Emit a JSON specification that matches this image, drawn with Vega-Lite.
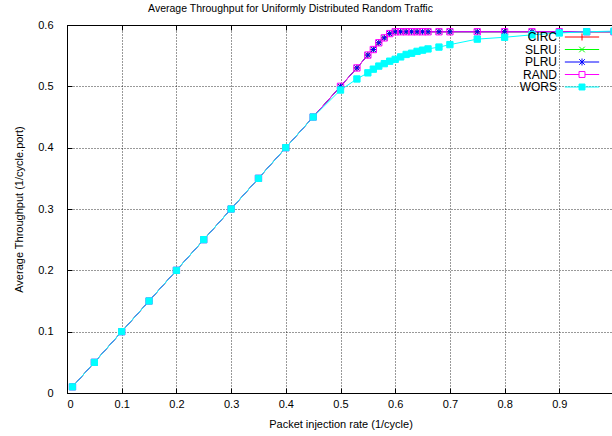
{
  "$schema": "https://vega.github.io/schema/vega-lite/v6.json",
  "width": 547,
  "height": 368,
  "autosize": {"type": "none"},
  "padding": {"left": 67, "top": 25, "right": 0, "bottom": 43},
  "background": "white",
  "config": {
    "font": "Liberation Sans",
    "view": {"stroke": "#000", "strokeWidth": 1},
    "axis": {
      "labelFont": "Liberation Sans", "labelFontSize": 11, "labelColor": "#000",
      "titleFont": "Liberation Sans", "titleFontSize": 11, "titleFontWeight": "normal", "titleColor": "#000",
      "domainColor": "#000", "tickColor": "#000", "tickSize": -5,
      "gridColor": "#000", "gridDash": [1, 2], "gridOpacity": 0.8
    }
  },
  "title": {
    "text": "Average Throughput for Uniformly Distributed Random Traffic",
    "fontSize": 10.5, "fontWeight": "normal", "color": "#000", "font": "Liberation Sans",
    "dx": -50, "offset": 5
  },
  "data": {
    "values": [
      {"rate": 0.01, "CIRC": 0.01, "SLRU": 0.01, "PLRU": 0.01, "RAND": 0.01, "WORS": 0.01},
      {"rate": 0.05, "CIRC": 0.05, "SLRU": 0.05, "PLRU": 0.05, "RAND": 0.05, "WORS": 0.05},
      {"rate": 0.1, "CIRC": 0.1, "SLRU": 0.1, "PLRU": 0.1, "RAND": 0.1, "WORS": 0.1},
      {"rate": 0.15, "CIRC": 0.15, "SLRU": 0.15, "PLRU": 0.15, "RAND": 0.15, "WORS": 0.15},
      {"rate": 0.2, "CIRC": 0.2, "SLRU": 0.2, "PLRU": 0.2, "RAND": 0.2, "WORS": 0.2},
      {"rate": 0.25, "CIRC": 0.25, "SLRU": 0.25, "PLRU": 0.25, "RAND": 0.25, "WORS": 0.25},
      {"rate": 0.3, "CIRC": 0.3, "SLRU": 0.3, "PLRU": 0.3, "RAND": 0.3, "WORS": 0.3},
      {"rate": 0.35, "CIRC": 0.35, "SLRU": 0.35, "PLRU": 0.35, "RAND": 0.35, "WORS": 0.35},
      {"rate": 0.4, "CIRC": 0.4, "SLRU": 0.4, "PLRU": 0.4, "RAND": 0.4, "WORS": 0.4},
      {"rate": 0.45, "CIRC": 0.45, "SLRU": 0.45, "PLRU": 0.45, "RAND": 0.45, "WORS": 0.45},
      {"rate": 0.5, "CIRC": 0.5, "SLRU": 0.5, "PLRU": 0.5, "RAND": 0.5, "WORS": 0.494},
      {"rate": 0.53, "CIRC": 0.53, "SLRU": 0.53, "PLRU": 0.53, "RAND": 0.53, "WORS": 0.512},
      {"rate": 0.55, "CIRC": 0.551, "SLRU": 0.551, "PLRU": 0.551, "RAND": 0.551, "WORS": 0.522},
      {"rate": 0.56, "CIRC": 0.56, "SLRU": 0.56, "PLRU": 0.56, "RAND": 0.56, "WORS": 0.528},
      {"rate": 0.57, "CIRC": 0.571, "SLRU": 0.571, "PLRU": 0.571, "RAND": 0.571, "WORS": 0.533},
      {"rate": 0.58, "CIRC": 0.579, "SLRU": 0.579, "PLRU": 0.579, "RAND": 0.579, "WORS": 0.537},
      {"rate": 0.59, "CIRC": 0.586, "SLRU": 0.586, "PLRU": 0.586, "RAND": 0.586, "WORS": 0.541},
      {"rate": 0.6, "CIRC": 0.589, "SLRU": 0.589, "PLRU": 0.589, "RAND": 0.589, "WORS": 0.544},
      {"rate": 0.61, "CIRC": 0.589, "SLRU": 0.589, "PLRU": 0.589, "RAND": 0.589, "WORS": 0.548},
      {"rate": 0.62, "CIRC": 0.589, "SLRU": 0.589, "PLRU": 0.589, "RAND": 0.589, "WORS": 0.552},
      {"rate": 0.63, "CIRC": 0.589, "SLRU": 0.589, "PLRU": 0.589, "RAND": 0.589, "WORS": 0.554},
      {"rate": 0.64, "CIRC": 0.589, "SLRU": 0.589, "PLRU": 0.589, "RAND": 0.589, "WORS": 0.557},
      {"rate": 0.65, "CIRC": 0.589, "SLRU": 0.589, "PLRU": 0.589, "RAND": 0.589, "WORS": 0.559},
      {"rate": 0.66, "CIRC": 0.589, "SLRU": 0.589, "PLRU": 0.589, "RAND": 0.589, "WORS": 0.561},
      {"rate": 0.68, "CIRC": 0.589, "SLRU": 0.589, "PLRU": 0.589, "RAND": 0.589, "WORS": 0.564},
      {"rate": 0.7, "CIRC": 0.589, "SLRU": 0.589, "PLRU": 0.589, "RAND": 0.589, "WORS": 0.568},
      {"rate": 0.75, "CIRC": 0.589, "SLRU": 0.589, "PLRU": 0.589, "RAND": 0.589, "WORS": 0.577},
      {"rate": 0.8, "CIRC": 0.589, "SLRU": 0.589, "PLRU": 0.589, "RAND": 0.589, "WORS": 0.58},
      {"rate": 0.85, "CIRC": 0.589, "SLRU": 0.589, "PLRU": 0.589, "RAND": 0.589, "WORS": 0.584},
      {"rate": 0.9, "CIRC": 0.589, "SLRU": 0.589, "PLRU": 0.589, "RAND": 0.589, "WORS": 0.587},
      {"rate": 0.95, "CIRC": 0.589, "SLRU": 0.589, "PLRU": 0.589, "RAND": 0.589, "WORS": 0.589},
      {"rate": 1.0, "CIRC": 0.589, "SLRU": 0.589, "PLRU": 0.589, "RAND": 0.589, "WORS": 0.59}
    ]
  },
  "transform": [
    {"fold": ["CIRC", "SLRU", "PLRU", "RAND", "WORS"], "as": ["series", "thr"]}
  ],
  "resolve": {"axis": {"x": "independent"}},
  "layer": [
    {
      "mark": {"type": "line", "strokeWidth": 1, "clip": true},
      "encoding": {
        "x": {"field": "rate", "type": "quantitative", "scale": {"domain": [0, 1], "nice": false, "zero": false},
              "axis": {"orient": "bottom", "values": [0, 0.1, 0.2, 0.3, 0.4, 0.5, 0.6, 0.7, 0.8, 0.9], "format": "~g", "title": "Packet injection rate (1/cycle)", "labelPadding": 10, "titlePadding": 9}},
        "y": {"field": "thr", "type": "quantitative", "scale": {"domain": [0, 0.6], "nice": false},
              "axis": {"values": [0, 0.1, 0.2, 0.3, 0.4, 0.5, 0.6], "format": "~g", "title": "Average Throughput (1/cycle.port)", "labelPadding": 19, "titlePadding": 13}},
        "stroke": {
          "field": "series", "type": "nominal", "sort": null,
          "scale": {"domain": ["CIRC", "SLRU", "PLRU", "RAND", "WORS"], "range": ["#ff0000", "#00ff00", "#0000ff", "#ff00ff", "#00ffff"]},
          "legend": {
            "orient": "none", "legendX": 509, "legendY": 6, "title": null,
            "symbolSize": 49, "symbolStrokeWidth": 1, "symbolOffset": 0,
            "labelAlign": "right", "labelOffset": -31, "labelFontSize": 12, "labelFont": "Liberation Sans", "labelColor": "#000",
            "rowPadding": 0.5,
            "encode": {
              "symbols": {
                "update": {
                  "shape": {"signal": "datum.value==='CIRC' ? 'M-4.9,0L4.9,0M0,-1L0,1' : datum.value==='SLRU' ? 'M-4.9,0L4.9,0M-0.8,-0.8L0.8,0.8M-0.8,0.8L0.8,-0.8' : datum.value==='PLRU' ? 'M-4.9,0L4.9,0M0,-1L0,1M-0.8,-0.8L0.8,0.8M-0.8,0.8L0.8,-0.8' : datum.value==='RAND' ? 'M-4.9,0L-0.85,0M0.85,0L4.9,0M-0.85,-0.85L0.85,-0.85L0.85,0.85L-0.85,0.85Z' : 'M-4.9,0L4.9,0M-0.85,-0.85L0.85,-0.85L0.85,0.85L-0.85,0.85Z'"},
                  "fill": {"signal": "datum.value==='WORS' ? '#00ffff' : datum.value==='RAND' ? '#ffffff' : 'transparent'"},
                  "strokeWidth": {"value": 1}
                }
              }
            }
          }
        }
      }
    },
    {
      "transform": [{"filter": {"field": "series", "equal": "CIRC"}}],
      "mark": {"type": "point", "shape": "M-1,0L1,0M0,-1L0,1", "size": 40, "filled": false, "stroke": "#ff0000", "strokeWidth": 1, "opacity": 1, "clip": true},
      "encoding": {
        "x": {"field": "rate", "type": "quantitative",
              "axis": {"orient": "top", "values": [0.1, 0.2, 0.3, 0.4, 0.5, 0.6, 0.7, 0.8, 0.9], "labels": false, "grid": false, "domain": false, "title": null}},
        "y": {"field": "thr", "type": "quantitative"}
      }
    },
    {
      "transform": [{"filter": {"field": "series", "equal": "SLRU"}}],
      "mark": {"type": "point", "shape": "M-0.8,-0.8L0.8,0.8M-0.8,0.8L0.8,-0.8", "size": 40, "filled": false, "stroke": "#00ff00", "strokeWidth": 1, "opacity": 1, "clip": true},
      "encoding": {
        "x": {"field": "rate", "type": "quantitative", "axis": null},
        "y": {"field": "thr", "type": "quantitative"}
      }
    },
    {
      "transform": [{"filter": {"field": "series", "equal": "PLRU"}}],
      "mark": {"type": "point", "shape": "M-1,0L1,0M0,-1L0,1M-0.8,-0.8L0.8,0.8M-0.8,0.8L0.8,-0.8", "size": 40, "filled": false, "stroke": "#0000ff", "strokeWidth": 1, "opacity": 1, "clip": true},
      "encoding": {
        "x": {"field": "rate", "type": "quantitative", "axis": null},
        "y": {"field": "thr", "type": "quantitative"}
      }
    },
    {
      "transform": [{"filter": {"field": "series", "equal": "RAND"}}],
      "mark": {"type": "point", "shape": "square", "size": 40, "filled": false, "stroke": "#ff00ff", "strokeWidth": 1, "opacity": 1, "clip": true},
      "encoding": {
        "x": {"field": "rate", "type": "quantitative", "axis": null},
        "y": {"field": "thr", "type": "quantitative"}
      }
    },
    {
      "transform": [{"filter": {"field": "series", "equal": "WORS"}}],
      "mark": {"type": "point", "shape": "square", "size": 40, "filled": true, "fill": "#00ffff", "stroke": "#00ffff", "strokeWidth": 1, "opacity": 1, "clip": true},
      "encoding": {
        "x": {"field": "rate", "type": "quantitative", "axis": null},
        "y": {"field": "thr", "type": "quantitative"}
      }
    }
  ]
}
